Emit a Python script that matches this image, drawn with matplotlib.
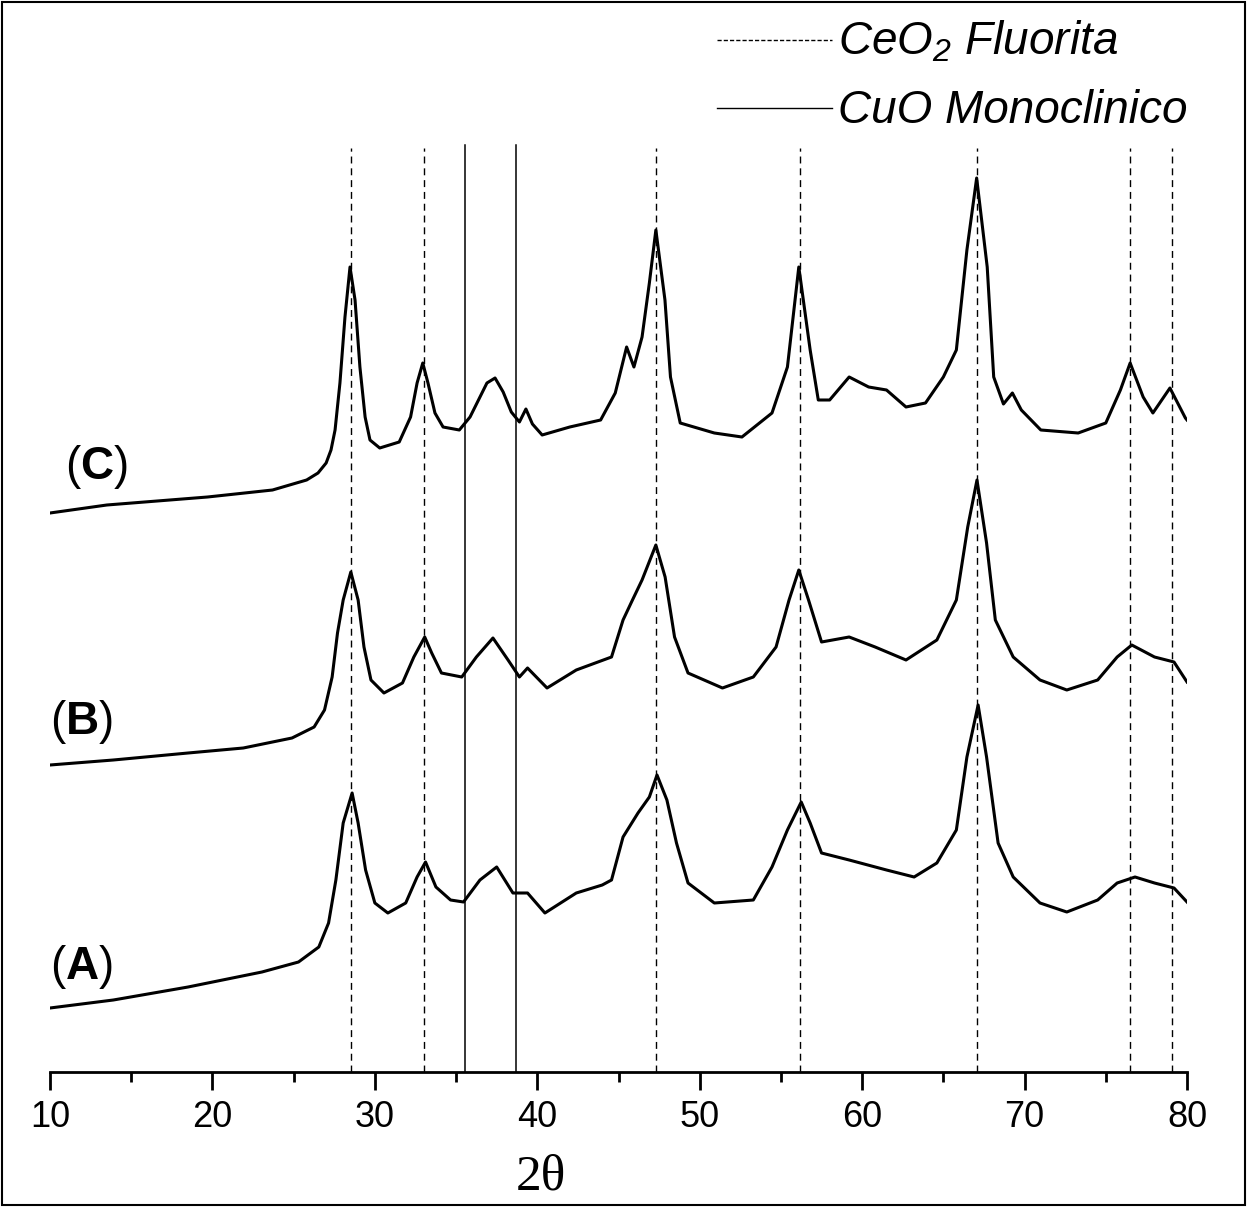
import matplotlib.pyplot as plt
from matplotlib.lines import Line2D
from matplotlib.patches import Rectangle

plt.rcParams['font.family'] = 'Liberation Sans'
plt.rcParams['mathtext.fontset'] = 'custom'
plt.rcParams['mathtext.rm'] = 'Liberation Sans:italic'
plt.rcParams['mathtext.it'] = 'Liberation Sans:italic'
plt.rcParams['mathtext.bf'] = 'Liberation Sans:bold'

# XRD patterns, stacked, intensity in arbitrary units (offset already included)
tt_A = [10, 13.9, 18.5, 23.05, 25.3, 26.55, 27.15, 27.6, 28.05, 28.6, 28.97, 29.43, 30.0,
        30.8, 31.9, 32.6, 33.12, 33.76, 34.66, 35.46, 36.47, 37.5, 38.5, 39.4, 40.47, 42.4,
        44.0, 44.57, 45.28, 46.2, 46.9, 47.37, 47.98, 48.57, 49.28, 50.9, 53.3, 54.45, 55.4,
        56.25, 56.8, 57.5, 59.2, 61.5, 63.2, 64.6, 65.8, 66.45, 67.14, 67.66, 68.37, 69.3,
        70.95, 72.6, 74.5, 75.7, 76.8, 78.0, 79.2, 80]
I_A = [64, 72, 85, 100, 110, 125, 149, 192, 249, 279, 249, 202, 169,
       159, 169, 195, 210, 185, 172, 170, 192, 205, 179, 179, 159, 179,
       187, 192, 235, 259, 275, 297, 272, 229, 189, 169, 172, 205, 242,
       270, 249, 219, 212, 202, 195, 209, 242, 315, 367, 315, 229, 195,
       169, 160, 172, 189, 195, 189, 184, 170]

tt_B = [10, 13.9, 18.5, 21.9, 24.9, 26.26, 26.9, 27.37, 27.7, 28.05, 28.52, 28.97, 29.33,
        29.76, 30.56, 31.7, 32.4, 33.07, 33.5, 34.1, 35.35, 36.25, 37.27, 38.2, 38.9, 39.4,
        40.6, 42.4, 44.57, 45.28, 45.86, 46.45, 47.3, 47.87, 48.45, 49.28, 51.4, 53.3, 54.7,
        55.5, 56.1, 56.7, 57.5, 59.2, 60.8, 62.7, 64.6, 65.8, 66.5, 67.07, 67.66, 68.2,
        69.3, 70.95, 72.6, 74.5, 75.7, 76.6, 78.0, 79.2, 80]
I_B = [307, 312, 319, 324, 334, 345, 362, 395, 439, 472, 500, 472, 425,
       392, 379, 389, 415, 435, 419, 399, 395, 415, 434, 412, 395, 404,
       384, 402, 415, 452, 472, 492, 527, 495, 435, 399, 384, 395, 425,
       472, 502, 472, 430, 435, 425, 412, 432, 472, 545, 592, 529, 452,
       415, 392, 382, 392, 415, 427, 415, 410, 390]

tt_C = [10, 13.5, 19.7, 23.7, 25.8, 26.5, 27.0, 27.3, 27.55, 27.85, 28.16, 28.47, 28.78,
        29.08, 29.4, 29.7, 30.3, 31.5, 32.2, 32.6, 32.95, 33.27, 33.7, 34.2, 35.2, 35.86,
        36.9, 37.4, 37.9, 38.4, 38.9, 39.3, 39.7, 40.3, 42.0, 43.9, 44.8, 45.5, 45.95, 46.45,
        46.9, 47.3, 47.86, 48.2, 48.8, 50.9, 52.6, 54.45, 55.4, 56.1, 56.8, 57.3, 58.0, 59.2,
        60.4, 61.5, 62.7, 63.9, 65.0, 65.8, 66.45, 67.05, 67.7, 68.1, 68.7, 69.25, 69.8, 71.0,
        73.3, 75.0, 75.9, 76.5, 77.3, 77.9, 78.95, 79.9, 80]
I_C = [559, 567, 575, 582, 592, 599, 609, 622, 642, 689, 755, 805, 772,
       705, 655, 632, 624, 630, 655, 689, 709, 689, 659, 645, 642, 655,
       689, 694, 680, 660, 650, 663, 648, 637, 645, 652, 679, 725, 705, 735,
       789, 842, 772, 695, 649, 639, 635, 659, 705, 805, 722, 672, 672, 695,
       685, 682, 665, 669, 695, 722, 822, 894, 805, 695, 668, 679, 662, 642,
       639, 649, 682, 709, 675, 659, 684, 654, 652]

sample_labels = ['(A)', '(B)', '(C)']

ceo2_lines = [28.53, 33.03, 47.31, 56.17, 67.07, 76.49, 79.08]
cuo_lines = [35.55, 38.69]

fig = plt.figure(figsize=(12.47, 12.07), dpi=100)
ax = fig.add_axes([50 / 1247, 135 / 1207, 1137 / 1247, 1052 / 1207])

for tt, I in [(tt_A, I_A), (tt_B, I_B), (tt_C, I_C)]:
    ax.plot(tt, I, color='black', lw=2.2, solid_joinstyle='round')

for x in ceo2_lines:
    ax.plot([x, x], [0, 924], color='black', lw=1.0, ls=(0, (5, 3.5)))
for x in cuo_lines:
    ax.plot([x, x], [0, 927], color='black', lw=1.1)

ax.set_xlim(10, 80)
ax.set_ylim(0, 1052)
for s in ['top', 'right', 'left']:
    ax.spines[s].set_visible(False)
ax.spines['bottom'].set_linewidth(2)
ax.set_yticks([])
ax.set_xticks(range(10, 81, 10))
ax.set_xticks(range(15, 80, 10), minor=True)
ax.tick_params(axis='x', which='major', length=13, width=2, labelsize=26, pad=7)
ax.tick_params(axis='x', which='minor', length=7, width=2)

# sample labels
label_pos = [(10.0, 105), (10.0, 350), (10.9, 605)]
for lab, (x, y) in zip(sample_labels, label_pos):
    ax.text(x, y, '(' + r'$\mathbf{' + lab[1] + '}$' + ')', fontsize=33, va='center')

fig.text(541 / 1247, 1 - 1177 / 1207, '2θ', family='Liberation Serif', fontsize=37,
         ha='center', va='center')

# legend drawn by hand
fig.add_artist(Line2D([717 / 1247, 832 / 1247], [1 - 40 / 1207] * 2, color='black',
                      lw=1.0, ls=(0, (3, 1.5))))
fig.add_artist(Line2D([717 / 1247, 832 / 1247], [1 - 108 / 1207] * 2, color='black', lw=1.0))
fig.text(838 / 1247, 1 - 54 / 1207, r'CeO$_2$ Fluorita', fontsize=33, style='italic',
         va='baseline')
fig.text(838 / 1247, 1 - 123 / 1207, 'CuO Monoclinico', fontsize=33, style='italic',
         va='baseline')

fig.add_artist(Rectangle((2 / 1247, 2 / 1207), 1243 / 1247, 1203 / 1207, fill=False,
                         lw=1.5, color='black', transform=fig.transFigure))

fig.savefig('out.png', dpi=100)
